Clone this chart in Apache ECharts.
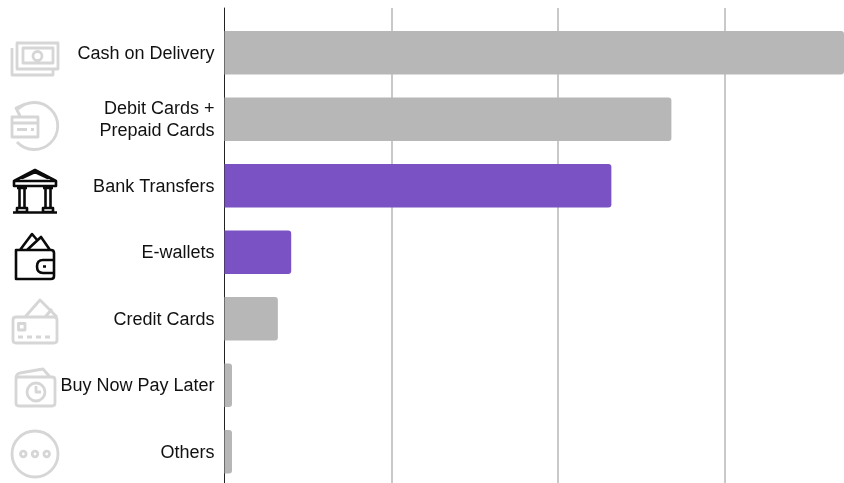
<!DOCTYPE html>
<html>
<head>
<meta charset="utf-8">
<style>html,body{margin:0;padding:0;background:#fff}#chart{width:844px;height:483px}</style>
<script src="https://cdn.jsdelivr.net/npm/echarts@6/dist/echarts.min.js"></script>
</head>
<body>
<div id="chart"></div>
<script>
// Payment methods, top to bottom, with their share in percent
const categories = ['Cash on Delivery', 'Debit Cards +\nPrepaid Cards', 'Bank Transfers', 'E-wallets', 'Credit Cards', 'Buy Now Pay Later', 'Others'];
const shares = [37.15, 26.8, 23.2, 4.0, 3.2, 0.45, 0.45];
const highlighted = ['Bank Transfers', 'E-wallets'];
const axisMax = 37.15;

const MUTED = '#b7b7b7', ACCENT = '#7b52c4', ICON_MUTED = '#d6d6d6', ICON_DARK = '#0a0a0a';

// Line icons beside each category label
const iconCash = 'M17 43H58V69H17Z M23 48H53V63H23Z M33 56a4.5 4.5 0 1 0 9 0a4.5 4.5 0 1 0 -9 0 M12 48V75H53V69';
const iconDebit = 'M25 104L16 108L20 116 M18 109A23.5 23.5 0 1 1 17 142 M12 117H38V137H12Z M12 123H38 M17 129.5H27 M31 129.5H34';
const iconBank = 'M14 181L35 170L56 181 M14 181H56V186H14Z M22 178L35 172L48 178 M17 188H27 M43 188H53 M19.5 189V207 M24.5 189V207 M45.5 189V207 M50.5 189V207 M17 208H27V212H17Z M43 208H53V212H43Z M13 212.5H57';
const iconWallet = 'M20 250L32 234L38 241 M27 250L41 237L50 250 M54 260V253Q54 250 51 250H16V279H51Q54 279 54 276V273 M54 260H43Q37 260 37 266.5Q37 273 43 273H54Z M43 266.5H46';
const iconCredit = 'M16 317H54Q57 317 57 320V340Q57 343 54 343H16Q13 343 13 340V320Q13 317 16 317Z M25 317L40 300L57 317 M45 317L52 309 M18.5 323.5H25V330H18.5Z M18 337H23 M27 337H32 M36 337H41 M45 337H50';
const iconLater = 'M18 377H52Q55 377 55 380V403Q55 406 52 406H19Q16 406 16 403V380Q16 377 18 377Z M16 378Q16 374 20 373L43 369L50 377 M27 392a9 9 0 1 0 18 0a9 9 0 1 0 -18 0 M36 386V392H41';
const iconOthers = 'M12 454a23 23 0 1 0 46 0a23 23 0 1 0 -46 0 M20.5 454a2.8 2.8 0 1 0 5.6 0a2.8 2.8 0 1 0 -5.6 0 M32.2 454a2.8 2.8 0 1 0 5.6 0a2.8 2.8 0 1 0 -5.6 0 M43.9 454a2.8 2.8 0 1 0 5.6 0a2.8 2.8 0 1 0 -5.6 0';

const icons = [
  [iconCash, ICON_MUTED], [iconDebit, ICON_MUTED],
  [iconBank, ICON_DARK], [iconWallet, ICON_DARK],
  [iconCredit, ICON_MUTED], [iconLater, ICON_MUTED], [iconOthers, ICON_MUTED]
];

// A value axis with everything switched off, used where a grid only needs a partner axis
const quietValueAxis = (gridIndex) => ({
  gridIndex, type: 'value', min: 0, max: axisMax, interval: 10,
  axisLabel: { show: false }, axisTick: { show: false }, axisLine: { show: false }, splitLine: { show: false }
});

const chart = echarts.init(document.getElementById('chart'), null, { renderer: 'canvas' });

chart.setOption({
  animation: false,
  backgroundColor: '#ffffff',
  grid: [
    // Frame grid: carries the baseline and the vertical rules, which run higher than the bars
    { left: 224.5, right: 0, top: 8, bottom: 0, outerBoundsMode: 'none' },
    // Bar grid; its last band runs just past the lower edge of the canvas
    { left: 224.5, right: 0, top: 19.5, height: 465.5, outerBoundsMode: 'none' },
    // Label grid: sets the text slightly below the bar centres
    { left: 224.5, right: 0, top: 20.5, height: 465.5, outerBoundsMode: 'none' }
  ],
  xAxis: [
    {
      gridIndex: 0, type: 'value', min: 0, max: axisMax, interval: 10,
      axisLabel: { show: false }, axisTick: { show: false }, axisLine: { show: false },
      splitLine: { show: true, showMinLine: false, showMaxLine: false, lineStyle: { color: '#c9c9c9', width: 2 } }
    },
    quietValueAxis(1),
    quietValueAxis(2)
  ],
  yAxis: [
    {
      gridIndex: 0, type: 'category', inverse: true, data: categories,
      axisLabel: { show: false }, axisTick: { show: false },
      axisLine: { show: true, lineStyle: { color: '#222222', width: 1 } }
    },
    {
      gridIndex: 1, type: 'category', inverse: true, data: categories,
      axisLabel: { show: false }, axisTick: { show: false }, axisLine: { show: false }
    },
    {
      gridIndex: 2, type: 'category', inverse: true, data: categories,
      axisTick: { show: false }, axisLine: { show: false },
      axisLabel: {
        margin: 10, color: '#111111', fontFamily: 'Liberation Sans', fontSize: 18, lineHeight: 22, align: 'right'
      }
    }
  ],
  series: [
    {
      type: 'bar', xAxisIndex: 1, yAxisIndex: 1, barWidth: 43.5, z: 3,
      data: shares.map((v, i) => ({
        value: v,
        itemStyle: {
          color: highlighted.includes(categories[i]) ? ACCENT : MUTED,
          borderRadius: [0, 3, 3, 0]
        }
      }))
    },
    {
      // Icon column, drawn in page space to the left of the labels
      type: 'custom', coordinateSystem: 'none', silent: true, clip: false,
      data: icons.map((_, i) => i),
      renderItem: (params) => {
        const [pathData, stroke] = icons[params.dataIndex];
        return {
          type: 'path',
          shape: { pathData },
          style: { fill: 'none', stroke, lineWidth: stroke === ICON_DARK ? 2.6 : 2.8, lineJoin: 'round' }
        };
      }
    }
  ]
});
</script>
</body>
</html>
